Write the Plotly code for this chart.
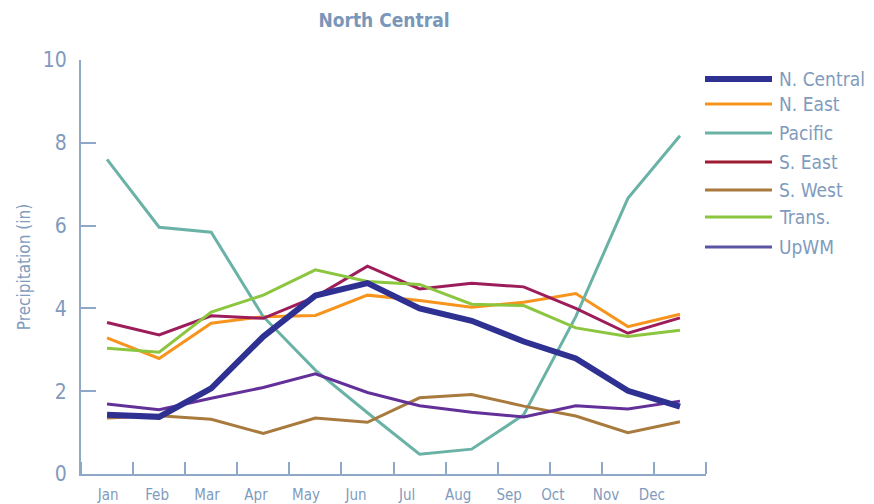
import plotly.graph_objects as go

months = ["Jan", "Feb", "Mar", "Apr", "May", "Jun", "Jul", "Aug", "Sep", "Oct", "Nov", "Dec"]
month_label_pos = [0.02, 0.96, 1.92, 2.86, 3.82, 4.78, 5.76, 6.74, 7.72, 8.56, 9.58, 10.46]

series_names = ["N. Central", "N. East", "Pacific", "S. East", "S. West", "Trans.", "UpWM"]
n_central = [1.43, 1.38, 2.07, 3.32, 4.31, 4.61, 4.00, 3.70, 3.20, 2.79, 2.01, 1.63]
n_east = [3.29, 2.79, 3.64, 3.80, 3.83, 4.32, 4.19, 4.03, 4.15, 4.36, 3.56, 3.86]
pacific = [7.60, 5.96, 5.84, 3.80, 2.51, 1.48, 0.48, 0.60, 1.43, 3.80, 6.66, 8.17]
s_east = [3.66, 3.36, 3.82, 3.76, 4.28, 5.02, 4.47, 4.61, 4.52, 4.00, 3.40, 3.77]
s_west = [1.35, 1.41, 1.32, 0.98, 1.35, 1.25, 1.84, 1.92, 1.64, 1.40, 1.00, 1.26]
trans = [3.04, 2.94, 3.91, 4.32, 4.93, 4.65, 4.58, 4.10, 4.07, 3.53, 3.32, 3.47]
upwm = [1.69, 1.55, 1.83, 2.09, 2.42, 1.97, 1.65, 1.49, 1.38, 1.65, 1.57, 1.76]
y_ticks = [0, 2, 4, 6, 8, 10]

values = [n_central, n_east, pacific, s_east, s_west, trans, upwm]
colors = ["#2e3192", "#f7941d", "#6ab2a6", "#9d1d5a", "#a87a3d", "#8cc63f", "#63309a"]
widths = [6, 3, 3, 3, 3, 3, 3]
legend_colors = ["#2e3192", "#f7941d", "#6ab2a6", "#9e1b32", "#a87a3d", "#8cc63f", "#5b55a5"]
legend_py = [79, 104, 133, 162, 190, 217, 247]

FONT = "DejaVu Sans Condensed, Liberation Sans Narrow, Liberation Sans, sans-serif"
TXT = "#7f9bbd"
AX = "#8fa8c8"

# the page body adds an 8px offset; figure is sized to fill the rest of the window
OFF = 8
W, H = 874 - OFF, 504 - OFF
L = 81 - OFF
R = W - (706 - OFF)
T = 60 - OFF
B = H - (474 - OFF)
PW, PH = W - L - R, H - T - B

fig = go.Figure()
x_idx = list(range(len(months)))
order = [1, 2, 3, 4, 5, 6, 0]
for i in order:
    fig.add_trace(go.Scatter(
        x=x_idx, y=values[i], mode="lines", name=series_names[i],
        line=dict(color=colors[i], width=widths[i]),
        showlegend=False, hoverinfo="skip"))

# manual legend (page pixel positions converted to paper coords)
shapes = []
annotations = []
for i, name in enumerate(series_names):
    py = legend_py[i] - OFF
    yp = (H - B - py) / PH
    shapes.append(dict(type="line", xref="paper", yref="paper",
                       x0=(705 - 81) / PW, x1=(772 - 81) / PW, y0=yp, y1=yp,
                       line=dict(color=legend_colors[i], width=widths[i]),
                       layer="above"))
    annotations.append(dict(xref="paper", yref="paper", x=(777 - 81) / PW, y=yp,
                            text=name, showarrow=False, xanchor="left", yanchor="middle",
                            font=dict(family=FONT, size=19, color=TXT)))

fig.update_layout(
    width=W, height=H,
    margin=dict(l=L, r=R, t=T, b=B, autoexpand=False),
    paper_bgcolor="white", plot_bgcolor="white",
    title=dict(text="<b>North Central</b>", x=(384 - OFF) / W, xanchor="center",
               y=1 - (20 - OFF) / H, yanchor="middle",
               font=dict(family=FONT, size=19, color="#7a96b9")),
    shapes=shapes, annotations=annotations,
    showlegend=False,
)
fig.update_xaxes(
    range=[-0.5, 11.5], tickmode="array", tickvals=month_label_pos, ticktext=months,
    ticks="", showgrid=False, zeroline=False, automargin=False,
    showline=True, linecolor=AX, linewidth=2,
    tickfont=dict(family=FONT, size=15, color=TXT),
    ticklabelstandoff=6,
    minor=dict(ticks="inside", tick0=-0.5, dtick=1, ticklen=12, tickcolor=AX, tickwidth=1.5, showgrid=False),
)
fig.update_yaxes(
    range=[0, 10], tickmode="array", tickvals=y_ticks,
    ticks="inside", ticklen=15, tickcolor=AX, tickwidth=1.5,
    showgrid=False, zeroline=False, automargin=False,
    showline=True, linecolor=AX, linewidth=2,
    tickfont=dict(family=FONT, size=21, color=TXT),
    ticklabelstandoff=8,
    title=dict(text="Precipitation (in)", font=dict(family=FONT, size=17, color=TXT), standoff=8),
)
fig.write_html("out.html")
